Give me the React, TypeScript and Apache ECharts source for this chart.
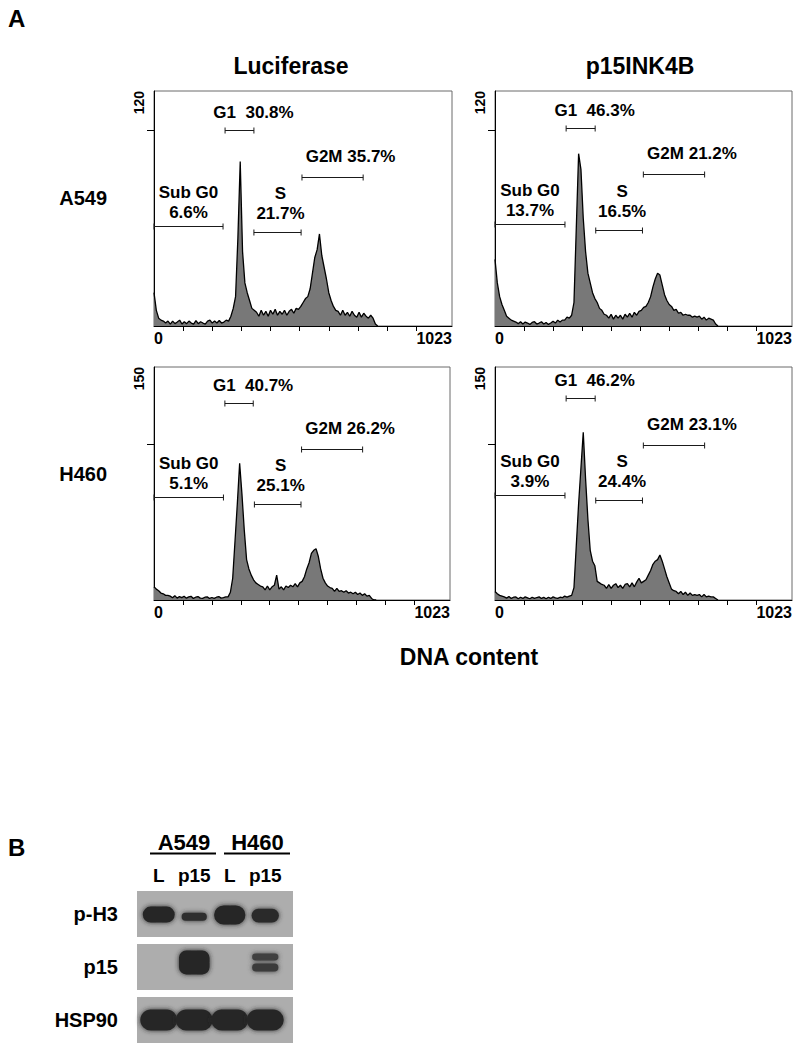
import React, { useEffect, useRef } from 'react';
import * as echarts from 'echarts';

const FONT = '"Liberation Sans", Arial, Helvetica, sans-serif';

// ---------- Flow cytometry data (counts every 8 channels, channel 0..768) ----------
const CH_STEP = 8;
const X_MAX = 1023;
const X_TICKS = [100, 200, 300, 400, 500, 600, 700, 800, 900];
const X_LABELS = [0, 1023];
const Y_TICKS = [100];
const Y_MAX_A549 = 120;
const Y_MAX_H460 = 150;

const A549_LUC = [
  17, 8, 4, 3, 2.5, 1.5, 2.5, 1, 2.5, 1.2, 2, 3, 1, 2.2, 1.2, 2.5, 1.5, 1, 2.8, 1.2, 2.2, 1.5, 1, 2.5, 3, 1.5, 2.5, 1.5, 2.8, 1.5,
  2, 3, 2.5, 5, 9, 15, 45, 84, 38, 22, 17, 13, 9, 8,
  7, 5, 8, 5.5, 7.5, 5, 8, 6, 8.5, 5.5, 7.5, 6, 8, 5.5, 7.5, 8.5, 6.5, 9, 8.5,
  10, 12, 14, 15, 19, 27, 35, 39, 47, 36, 30, 24, 17, 13, 10, 8,
  7.5, 5.5, 8, 5.5, 7, 5, 7.5, 5.5, 4.5, 7, 4.5, 6.5, 5, 4, 5.5,
  4, 1, 0,
];
const A549_P15 = [
  34, 22, 15, 11, 8, 5, 4, 3, 2.5, 2,
  1.2, 2.2, 1, 2, 1.5, 0.8, 1.8, 2.2, 1, 1.5, 2.2, 1, 1.8, 0.8, 1.5, 2.4, 1.5, 3, 2, 3,
  3, 4.5, 4, 5.5, 12, 50, 88, 80, 55, 38, 27, 22, 17, 14, 12, 9, 8, 6,
  5.5, 4, 6, 3.5, 5.5, 4, 5.5, 3.5, 6, 4.5, 6.5, 4.5, 7, 5.5,
  7.5, 8, 9.5, 10, 12, 15, 20, 24, 27, 26, 21, 16, 13, 11, 10, 8, 8.5, 6.5,
  7, 5.5, 6, 5.5, 5.5, 4.5, 5, 4.5, 5, 3.5, 4.5, 3, 4, 3.5,
  3, 1, 0,
];
const H460_LUC = [
  8.5, 7, 6, 4.5, 4, 3, 3,
  2.5, 1.5, 2.8, 1.2, 2.2, 1.5, 2.4, 1.2, 2, 2.4, 1, 1.8, 2.2, 1.2, 1, 1.8, 2, 1, 1.6, 1, 1.8, 2.2, 1.2, 1.5, 2,
  2, 5, 14, 38, 62, 88, 68, 45, 26, 20, 16, 13, 11, 10, 9,
  8.5, 6.5, 9, 6.5, 8.5, 9.5, 16, 7, 8.5, 6.5, 9, 8, 9.5, 8.5, 10.5, 8.5, 11,
  12, 15, 20, 24, 30, 32, 33, 28, 20, 14, 11, 9, 8,
  7.5, 5.5, 7.5, 5.5, 6, 5, 6, 4.5, 5, 4, 5, 3.5, 4.5, 3, 4, 2.5, 3,
  1, 0, 0,
];
const H460_P15 = [
  5.5, 4, 3, 2.5, 2,
  1.2, 2.2, 1, 1.8, 2, 0.8, 1.8, 1, 2, 1.4, 0.8, 1.8, 1, 1.6, 2, 1, 1.7, 0.8, 1.8, 1, 2, 1.4, 1, 1.8,
  1.5, 2.5, 1.8, 2.5, 3, 8, 35, 62, 85, 108, 78, 52, 32, 25, 22, 12, 11, 10,
  9.5, 7.5, 10, 7.5, 9.5, 10.5, 8, 9.5, 7.5, 10, 10.5, 8.5, 11, 8.5, 11.5,
  14, 11, 12, 13, 16, 19, 23, 25, 26, 29, 25, 20, 15, 11, 7, 6,
  5.5, 4, 5.5, 3.5, 5, 3, 4.5, 3, 3.5, 3, 3.5, 2, 3.5, 2, 2.5, 2, 2,
  1, 0,
];

// Gates: [start channel, end channel, level (count)] for Sub G0, G1, S, G2M
const GATE_NAMES = ['Sub G0', 'G1', 'S', 'G2M'];
const A549_LUC_GATES = [[0, 237, 51], [244, 343, 100], [343, 505, 48], [508, 718, 76]];
const A549_P15_GATES = [[0, 241, 52], [245, 345, 101], [347, 508, 49], [511, 722, 77.5]];
const H460_LUC_GATES = [[0, 240, 66], [245, 343, 127], [347, 508, 62], [510, 721, 97.5]];
const H460_P15_GATES = [[0, 241, 67.7], [245, 345, 130], [347, 508, 64.5], [511, 722, 100]];
const A549_LUC_PCT = [6.6, 30.8, 21.7, 35.7];
const A549_P15_PCT = [13.7, 46.3, 16.5, 21.2];
const H460_LUC_PCT = [5.1, 40.7, 25.1, 26.2];
const H460_P15_PCT = [3.9, 46.2, 24.4, 23.1];

const CONDITIONS = ['Luciferase', 'p15INK4B'];
const CELL_LINES = ['A549', 'H460'];

// ---------- Western blot ----------
const LANES = ['L', 'p15', 'L', 'p15'];
const BLOTS = ['p-H3', 'p15', 'HSP90'];
// [lane, blot row, band width (fraction of lane), band height (fraction of row), vertical shift (fraction of row), darkness, roundness]
const BANDS = [
  [0, 0, 0.9, 0.3, 0.01, 0.97, 0.5],
  [1, 0, 0.71, 0.15, 0.05, 0.9, 0.5],
  [2, 0, 0.88, 0.36, 0.02, 0.98, 0.5],
  [3, 0, 0.77, 0.26, 0.03, 0.94, 0.5],
  [1, 1, 0.86, 0.45, -0.085, 0.98, 0.3],
  [3, 1, 0.74, 0.13, -0.19, 0.75, 0.5],
  [3, 1, 0.74, 0.15, 0.01, 0.8, 0.5],
  [0, 2, 1.04, 0.4, 0.0, 0.96, 0.5],
  [1, 2, 1.04, 0.4, 0.0, 0.96, 0.5],
  [2, 2, 1.04, 0.4, 0.0, 0.96, 0.5],
  [3, 2, 1.04, 0.4, 0.0, 0.96, 0.5],
];

// label placement per gate kind (px): dx from gate centre, gap above gate
const GATE_LABEL_LAYOUT = [
  { dx: 0, gap: 4 },
  { dx: 14, gap: 8 },
  { dx: 3, gap: 9 },
  { dx: 18, gap: 11 },
];

function gateLabel(k: number, pct: number) {
  const p = pct.toFixed(1) + '%';
  if (k === 0) return GATE_NAMES[0] + '\n' + p;
  if (k === 1) return GATE_NAMES[1] + '  ' + p;
  if (k === 2) return GATE_NAMES[2] + '\n' + p;
  return GATE_NAMES[3] + ' ' + p;
}

const PANELS = [
  { counts: A549_LUC, yMax: Y_MAX_A549, gates: A549_LUC_GATES, pct: A549_LUC_PCT, rect: { left: 154, top: 91, width: 298, height: 235 } },
  { counts: A549_P15, yMax: Y_MAX_A549, gates: A549_P15_GATES, pct: A549_P15_PCT, rect: { left: 495, top: 91, width: 297, height: 235 } },
  { counts: H460_LUC, yMax: Y_MAX_H460, gates: H460_LUC_GATES, pct: H460_LUC_PCT, rect: { left: 154, top: 367, width: 296, height: 233 } },
  { counts: H460_P15, yMax: Y_MAX_H460, gates: H460_P15_GATES, pct: H460_P15_PCT, rect: { left: 495, top: 367, width: 297, height: 233 } },
];

function shade(d: number) {
  const v = Math.round(35 + (1 - d) * 120);
  return `rgb(${v},${v},${v})`;
}

function buildOption() {
  const grid: any[] = [];
  const xAxis: any[] = [];
  const yAxis: any[] = [];
  const series: any[] = [];

  PANELS.forEach((p, i) => {
    grid.push({ ...p.rect, show: true, borderColor: '#6a6a6a', borderWidth: 1, containLabel: false });
    xAxis.push({
      type: 'value', gridIndex: i, min: 0, max: X_MAX,
      axisLine: { show: true, onZero: false, lineStyle: { color: '#000', width: 1 } },
      axisTick: { show: true, customValues: X_TICKS, length: 5, lineStyle: { color: '#000', width: 1 } },
      axisLabel: {
        show: true, customValues: X_LABELS, alignMinLabel: 'left', alignMaxLabel: 'right', margin: 4,
        formatter: (v: number) => String(v),
        fontSize: 16, fontWeight: 'bold', color: '#000', fontFamily: FONT,
      },
      splitLine: { show: false },
    });
    yAxis.push({
      type: 'value', gridIndex: i, min: 0, max: p.yMax,
      axisLine: { show: true, onZero: false, lineStyle: { color: '#000', width: 1 } },
      axisTick: { show: true, customValues: Y_TICKS, length: 7, lineStyle: { color: '#000' } },
      axisLabel: {
        show: true, customValues: [p.yMax], rotate: 90, align: 'right', verticalAlign: 'middle', margin: 15,
        formatter: (v: number) => String(v),
        fontSize: 14, fontWeight: 'bold', color: '#000', fontFamily: FONT,
      },
      splitLine: { show: false },
    });
    series.push({
      type: 'line', xAxisIndex: i, yAxisIndex: i, silent: true,
      data: p.counts.map((v, j) => [j * CH_STEP, v]),
      showSymbol: false, symbol: 'none',
      lineStyle: { color: '#000', width: 1.3 },
      areaStyle: { color: '#787878', opacity: 1 },
    });
    const labels = p.gates.map((_, k) => gateLabel(k, p.pct[k]));
    series.push({
      type: 'custom', xAxisIndex: i, yAxisIndex: i, silent: true,
      data: p.gates.map((g, k) => [g[0], g[1], g[2], k]),
      renderItem: (params: any, api: any) => {
        const k = params.dataIndex;
        const a = api.coord([api.value(0), api.value(2)]);
        const b = api.coord([api.value(1), api.value(2)]);
        const y = Math.round(a[1]) + 0.5;
        const lay = GATE_LABEL_LAYOUT[k];
        const st = { stroke: '#1a1a1a', lineWidth: 1 };
        return {
          type: 'group',
          children: [
            { type: 'line', shape: { x1: a[0], y1: y, x2: b[0], y2: y }, style: st },
            { type: 'line', shape: { x1: a[0], y1: y - 3, x2: a[0], y2: y + 3 }, style: st },
            { type: 'line', shape: { x1: b[0], y1: y - 3, x2: b[0], y2: y + 3 }, style: st },
            {
              type: 'text', x: (a[0] + b[0]) / 2 + lay.dx, y: y - lay.gap,
              style: {
                text: labels[k], align: 'center', verticalAlign: 'bottom',
                font: `bold 17px ${FONT}`, lineHeight: 20, fill: '#000',
              },
            },
          ],
        };
      },
    });
  });

  // Western blot grid
  const bi = PANELS.length;
  grid.push({ left: 141, top: 887.5, width: 142, height: 159, show: false });
  xAxis.push({
    type: 'category', gridIndex: bi, data: LANES, position: 'top',
    axisLine: { show: false }, axisTick: { show: false }, splitLine: { show: false },
    axisLabel: { margin: 3, fontSize: 19, fontWeight: 'bold', color: '#000', fontFamily: FONT, interval: 0 },
  });
  yAxis.push({
    type: 'category', gridIndex: bi, data: BLOTS, inverse: true,
    axisLine: { show: false }, axisTick: { show: false }, splitLine: { show: false },
    axisLabel: { margin: 23, fontSize: 20, fontWeight: 'bold', color: '#000', fontFamily: FONT, interval: 0 },
  });
  series.push({
    type: 'custom', xAxisIndex: bi, yAxisIndex: bi, silent: true,
    data: BLOTS.map((_, r) => [0, r]),
    renderItem: (params: any, api: any) => {
      const cs = params.coordSys;
      const c = api.coord([0, api.value(1)]);
      const rowH = api.size([1, 1])[1];
      const h = rowH * 0.87;
      return {
        type: 'rect',
        shape: { x: cs.x - 4, y: c[1] - h / 2, width: cs.width + 14, height: h },
        style: { fill: '#adadad' },
      };
    },
  });
  series.push({
    type: 'custom', xAxisIndex: bi, yAxisIndex: bi, silent: true,
    data: BANDS,
    renderItem: (params: any, api: any) => {
      const c = api.coord([api.value(0), api.value(1)]);
      const sz = api.size([1, 1]);
      const w = sz[0] * api.value(2);
      const h = sz[1] * api.value(3);
      const cy = c[1] + sz[1] * api.value(4);
      const col = shade(api.value(5));
      return {
        type: 'rect',
        shape: { x: c[0] - w / 2, y: cy - h / 2, width: w, height: h, r: Math.min(w, h) * api.value(6) },
        style: { fill: col, shadowBlur: 5, shadowColor: col },
      };
    },
  });

  const txt = (text: string, x: number, y: number, size: number, align = 'center') => ({
    type: 'text', x, y, silent: true,
    style: { text, font: `bold ${size}px ${FONT}`, fill: '#000', align, verticalAlign: 'middle' },
  });

  const graphic: any[] = [
    txt('A', 8, 18.5, 24, 'left'),
    txt(CONDITIONS[0], 291, 66, 23),
    txt(CONDITIONS[1], 640, 66, 23),
    txt(CELL_LINES[0], 107, 198, 20, 'right'),
    txt(CELL_LINES[1], 107, 474, 20, 'right'),
    txt('DNA content', 469, 656.5, 23),
    txt('B', 8, 847, 24, 'left'),
    txt(CELL_LINES[0], 184, 842.5, 22),
    txt(CELL_LINES[1], 257.5, 842.5, 22),
    { type: 'line', shape: { x1: 150, y1: 853.5, x2: 216, y2: 853.5 }, style: { stroke: '#000', lineWidth: 2 } },
    { type: 'line', shape: { x1: 224, y1: 853.5, x2: 290, y2: 853.5 }, style: { stroke: '#000', lineWidth: 2 } },
  ];

  return {
    animation: false,
    backgroundColor: '#fff',
    textStyle: { fontFamily: FONT },
    grid, xAxis, yAxis, series, graphic,
  };
}

export default function App() {
  const ref = useRef<HTMLDivElement>(null);
  useEffect(() => {
    if (!ref.current) return;
    const chart = echarts.init(ref.current, null, { renderer: 'svg' });
    chart.setOption(buildOption() as any);
    return () => chart.dispose();
  }, []);
  return <div ref={ref} style={{ position: 'absolute', left: 0, top: 0, width: 800, height: 1050 }} />;
}
